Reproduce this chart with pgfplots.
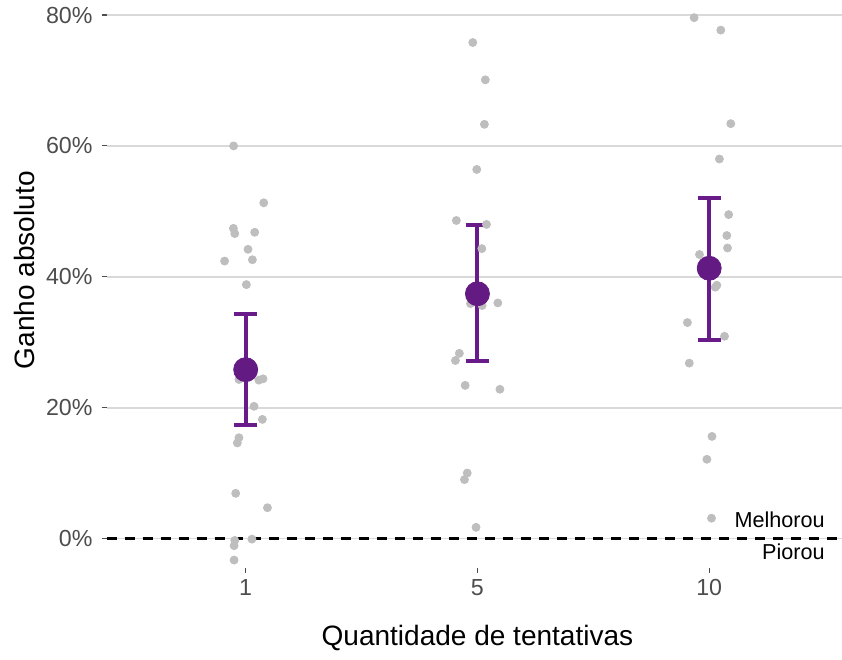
\documentclass[border=0pt]{standalone}
\usepackage{pgfplots}
\pgfplotsset{compat=1.18}
\usepackage{fontspec}
\setmainfont{Liberation Sans}
\definecolor{gridgrey}{HTML}{D9D9D9}
\definecolor{ptgrey}{HTML}{BEBEBE}
\definecolor{ticktext}{HTML}{4D4D4D}
\definecolor{barpurple}{HTML}{6A1B8A}
\definecolor{meanpurple}{HTML}{631A82}
\begin{document}
\begin{tikzpicture}
\begin{axis}[
  width=367.6pt, height=283.5pt, scale only axis,
  xmin=-0.6, xmax=2.575, ymin=-4.44, ymax=82.3,
  axis line style={draw=none},
  xtick={0,1,2}, xticklabels={1,5,10},
  ytick={0,20,40,60,80}, yticklabels={0\%,20\%,40\%,60\%,80\%},
  xtick pos=left, ytick pos=left,
  tick align=outside, major tick length=2.5pt,
  tick style={color=ticktext, line width=0.55pt},
  ymajorgrids, grid style={color=gridgrey, line width=0.9pt},
  /pgf/number format/assume math mode=true,
  tick label style={font=\fontsize{11.6}{13}\selectfont, text=ticktext},
  yticklabel style={xshift=-1.0pt},
  clip=false,
]
% zero line
\addplot[black, line width=1.1pt, dash pattern=on 5pt off 4pt, forget plot] coordinates {(-0.6,0) (2.575,0)};
% individual points (jittered)
\addplot[only marks, mark=*, mark size=2pt, color=ptgrey, forget plot] coordinates {
(-0.052,60.0) (0.078,51.3) (-0.053,47.4) (-0.047,46.6) (0.039,46.8) (0.010,44.2)
(-0.091,42.4) (0.029,42.6) (0.003,38.8) (-0.029,24.3) (0.057,24.2) (0.075,24.4)
(0.036,20.2) (0.072,18.2) (-0.029,15.4) (-0.036,14.6) (-0.043,6.9) (0.094,4.7)
(-0.047,-0.3) (-0.050,-1.1) (0.027,-0.1) (-0.050,-3.3)
(0.980,75.8) (1.034,70.1) (1.030,63.3) (0.997,56.4) (0.909,48.6) (1.039,48.0)
(1.019,44.3) (0.970,35.9) (1.020,35.6) (1.088,36.0) (0.922,28.3) (0.905,27.2)
(0.947,23.4) (1.097,22.8) (0.956,10.0) (0.944,9.0) (0.994,1.7)
(1.935,79.6) (2.050,77.7) (2.093,63.4) (2.044,58.0) (2.084,49.5) (2.076,46.3)
(2.079,44.4) (1.958,43.4) (2.026,38.4) (2.033,38.7) (1.906,33.0) (2.066,30.9)
(1.914,26.8) (2.012,15.6) (1.990,12.1) (2.010,3.1)
};
% means with error bars
\addplot[only marks, mark=*, mark size=6pt, color=meanpurple, forget plot,
  error bars/.cd, y dir=both, y explicit,
  error bar style={line width=2pt, color=barpurple},
  error mark options={rotate=90, mark size=5.85pt, line width=2pt, color=barpurple}]
  coordinates {
  (0,25.8) += (0,8.5) -= (0,8.5)
  (1,37.4) += (0,10.5) -= (0,10.3)
  (2,41.3) += (0,10.8) -= (0,10.9)
};
\node[anchor=base east, inner sep=0pt, font=\fontsize{10.8}{13}\selectfont, text=black] at (axis cs:2.5,1.7) {Melhorou};
\node[anchor=base east, inner sep=0pt, font=\fontsize{10.8}{13}\selectfont, text=black] at (axis cs:2.5,-3.2) {Piorou};
% axis titles
\node[anchor=base, inner sep=0pt, font=\fontsize{14}{16}\selectfont, text=black] at (axis cs:1.0,-16.4) {Quantidade de tentativas};
\node[anchor=base, rotate=90, inner sep=0pt, font=\fontsize{14}{16}\selectfont, text=black] at (axis cs:-0.909,41.0) {Ganho absoluto};
% picture frame
\coordinate (bbSW) at (axis cs:-1.06,-18.5);
\coordinate (bbNE) at (axis cs:2.573,82.3);
\end{axis}
\pgfresetboundingbox
\useasboundingbox (bbSW) rectangle (bbNE);
\end{tikzpicture}
\end{document}
